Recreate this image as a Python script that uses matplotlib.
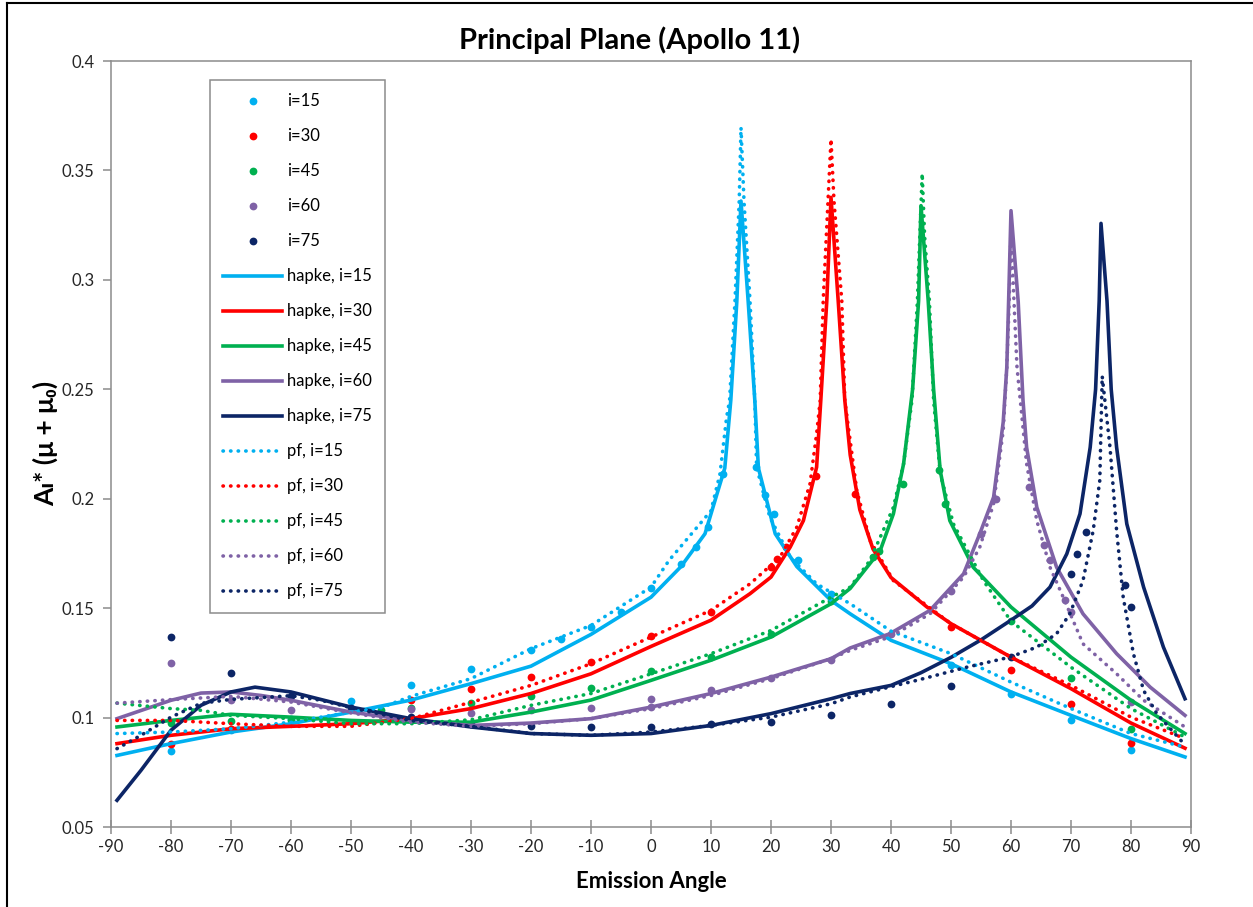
import matplotlib.pyplot as plt
from matplotlib.lines import Line2D

plt.rcParams['font.family'] = ['Lato', 'DejaVu Sans']
plt.rcParams['axes.unicode_minus'] = False

incidence = [15, 30, 45, 60, 75]
colors = ['#00B0F0', '#FF0000', '#00B050', '#7F62A6', '#0C2566']

# measured points
obs15_x = [-80, -70, -60, -50, -40, -30, -20, -15, -10, -5, 0, 5, 7.5, 9.5, 12, 17.5, 19, 20.5, 24.5, 30, 50, 60, 70, 80]
obs15_y = [0.0847, 0.0942, 0.0995, 0.1074, 0.115, 0.1222, 0.1307, 0.136, 0.1413, 0.1482, 0.1591, 0.1703, 0.1779, 0.187,
           0.2114, 0.2144, 0.2015, 0.1931, 0.1718, 0.1566, 0.1238, 0.1109, 0.0987, 0.085]
obs30_x = [-80, -70, -40, -30, -20, -10, 0, 10, 20, 21, 22.5, 27.5, 34, 50, 60, 70, 80]
obs30_y = [0.0878, 0.0949, 0.1079, 0.113, 0.1185, 0.1253, 0.1375, 0.1481, 0.1687, 0.1726, 0.1779, 0.2106, 0.2022,
           0.1413, 0.1216, 0.1063, 0.0884]
obs45_x = [-80, -70, -60, -45, -40, -30, -20, -10, 0, 10, 20, 30, 37, 38, 42, 48, 49, 60, 70, 80]
obs45_y = [0.0975, 0.0983, 0.099, 0.1033, 0.1045, 0.1066, 0.1097, 0.1137, 0.1213, 0.1276, 0.1383, 0.1533, 0.1733,
           0.1763, 0.2068, 0.2129, 0.1977, 0.144, 0.118, 0.0949]
obs60_x = [-80, -70, -60, -40, -30, -20, -10, 0, 0, 10, 20, 30, 40, 50, 55, 57.5, 63, 65.5, 66.5, 69, 70, 80]
obs60_y = [0.1249, 0.1079, 0.1036, 0.1041, 0.1021, 0.1033, 0.1045, 0.1086, 0.1048, 0.1124, 0.1183, 0.1263, 0.1383,
           0.158, 0.184, 0.200, 0.2053, 0.1788, 0.1718, 0.1535, 0.1482, 0.1071]
obs75_x = [-80, -70, -60, -50, -40, -30, -20, -10, 0, 10, 20, 30, 40, 50, 60, 70, 71, 72.5, 79, 80]
obs75_y = [0.1368, 0.1205, 0.110, 0.1045, 0.1002, 0.0972, 0.096, 0.0957, 0.0957, 0.0972, 0.0979, 0.101, 0.106,
           0.1143, 0.1276, 0.1657, 0.1748, 0.1847, 0.1604, 0.1505]

# hapke model
hapke15_x = [-89, -80, -70, -60, -50, -40, -30, -20, -10, 0, 5, 9, 12.3, 13.3, 14.3, 15, 16.2, 17.3, 17.9, 20.7,
             24.3, 30, 33.2, 40, 50, 60, 70, 80, 89]
hapke15_y = [0.0827, 0.0881, 0.0934, 0.0972, 0.1025, 0.108, 0.1155, 0.1235, 0.138, 0.155, 0.169, 0.184, 0.214,
             0.245, 0.290, 0.336, 0.290, 0.245, 0.214, 0.184, 0.169, 0.1535, 0.1474, 0.1353, 0.1246, 0.1117, 0.101,
             0.0904, 0.082]
hapke30_x = [-89, -80, -70, -60, -50, -40, -30, -20, -10, 0, 10, 16.5, 20, 23.2, 25.4, 27.6, 28.3, 29.3, 30, 31.2,
             32.3, 33.2, 34.8, 37, 40, 46, 50, 60, 70, 80, 89]
hapke30_y = [0.0881, 0.0919, 0.0949, 0.096, 0.0972, 0.0995, 0.1041, 0.111, 0.120, 0.1325, 0.1445, 0.1566, 0.1642,
             0.1779, 0.190, 0.2144, 0.245, 0.2904, 0.3377, 0.2904, 0.245, 0.220, 0.195, 0.177, 0.164, 0.1505, 0.1429,
             0.1276, 0.1132, 0.0975, 0.086]
hapke45_x = [-89, -80, -70, -60, -50, -40, -30, -20, -10, 0, 10, 20, 30, 33.2, 38.2, 40.4, 42.1, 43.6, 44.6, 45,
             46.2, 47.1, 48.2, 49.8, 53.7, 60, 70, 80, 89]
hapke45_y = [0.0957, 0.0987, 0.1015, 0.1002, 0.0987, 0.0979, 0.0979, 0.1025, 0.108, 0.117, 0.1262, 0.1368, 0.152,
             0.159, 0.1763, 0.1931, 0.216, 0.25, 0.2904, 0.3339, 0.2904, 0.25, 0.2129, 0.190, 0.1687, 0.1505, 0.1276,
             0.1079, 0.0927]
hapke60_x = [-89, -80, -75, -70, -65, -60, -50, -40, -30, -20, -10, 0, 10, 20, 30, 33.2, 39.8, 46.5, 52.1, 54.8,
             57.1, 58.7, 59.3, 59.6, 60, 61.2, 62, 62.6, 64.3, 67.6, 72, 77.6, 83.2, 89]
hapke60_y = [0.0995, 0.1079, 0.1112, 0.1117, 0.1101, 0.1079, 0.1025, 0.0987, 0.0964, 0.0975, 0.0995, 0.1048, 0.111,
             0.1185, 0.1269, 0.1318, 0.1383, 0.149, 0.1657, 0.184, 0.2007, 0.235, 0.26, 0.29, 0.3316, 0.29, 0.245,
             0.2235, 0.1961, 0.1687, 0.1474, 0.1292, 0.1139, 0.101]
hapke75_x = [-89, -85, -80, -75, -70, -66, -60, -50, -40, -30, -20, -10, 0, 10, 20, 30, 33.2, 40, 45, 50, 55, 60,
             63.5, 66.5, 69.3, 71.5, 73.2, 74.1, 74.7, 75, 76, 76.7, 77.6, 79.3, 82.1, 85.4, 89]
hapke75_y = [0.0622, 0.0759, 0.0942, 0.1056, 0.1117, 0.1139, 0.1117, 0.1048, 0.0995, 0.0957, 0.0927, 0.0919,
             0.0927, 0.0964, 0.1018, 0.1086, 0.111, 0.1147, 0.1205, 0.1275, 0.1355, 0.1445, 0.151, 0.1596, 0.1748,
             0.1931, 0.2235, 0.25, 0.2904, 0.3258, 0.2904, 0.25, 0.2235, 0.1885, 0.1596, 0.1322, 0.1086]

# pf model
pf15_x = [-89, -80, -70, -60, -50, -45, -40, -30, -20, -10, 0, 3, 10, 11.5, 12.6, 13.1, 14, 14.7, 15, 15.5, 16.5,
          17.3, 17.6, 19.8, 23.2, 27.6, 33.2, 40, 50, 60, 70, 80, 89]
pf15_y = [0.0927, 0.0934, 0.0949, 0.0979, 0.1025, 0.1045, 0.1097, 0.1178, 0.1315, 0.1421, 0.1596, 0.1718, 0.1945,
          0.2114, 0.2372, 0.245, 0.2904, 0.336, 0.3696, 0.336, 0.2904, 0.245, 0.2144, 0.1916, 0.1733, 0.1611,
          0.152, 0.1395, 0.1292, 0.1162, 0.1041, 0.0927, 0.0865]
pf30_x = [-89, -80, -70, -60, -50, -40, -30, -20, -10, 0, 10, 16.5, 21.5, 24.3, 26.5, 27.6, 28.2, 28.7, 29.5, 30,
          30.5, 31.8, 32.3, 34.3, 36.5, 40.4, 50, 60, 70, 80, 89]
pf30_y = [0.0987, 0.0987, 0.0972, 0.096, 0.096, 0.0995, 0.107, 0.1147, 0.1246, 0.1368, 0.149, 0.1611, 0.1733,
          0.187, 0.2068, 0.2296, 0.245, 0.2904, 0.336, 0.3643, 0.336, 0.2904, 0.245, 0.2037, 0.1809, 0.1626,
          0.1429, 0.1276, 0.1147, 0.1002, 0.0904]
pf45_x = [-89, -80, -75, -70, -60, -50, -40, -30, -20, -10, 0, 10, 20, 30, 33.2, 36.5, 40.4, 42.1, 43.5, 44.4,
          44.8, 45.2, 45.6, 46.4, 47.1, 48.2, 50.4, 55.4, 60, 70, 80, 89]
pf45_y = [0.1066, 0.1041, 0.1033, 0.101, 0.0995, 0.0972, 0.0972, 0.099, 0.1056, 0.111, 0.120, 0.1292, 0.1398,
          0.155, 0.1596, 0.1718, 0.1961, 0.216, 0.245, 0.2904, 0.32, 0.3486, 0.32, 0.2904, 0.245, 0.2114, 0.1885,
          0.1626, 0.144, 0.123, 0.1041, 0.0911]
pf60_x = [-89, -80, -70, -60, -50, -40, -30, -20, -10, 0, 10, 20, 30, 33.2, 39.8, 46.5, 52.1, 54.8, 57.1, 58.7,
          59.3, 59.7, 60, 60.5, 61, 62.6, 64.3, 66.5, 68.7, 72, 77.6, 82.1, 89]
pf60_y = [0.1066, 0.1082, 0.1097, 0.1071, 0.1021, 0.0979, 0.096, 0.0972, 0.0995, 0.1041, 0.1101, 0.1178, 0.1269,
          0.1307, 0.1368, 0.1474, 0.1642, 0.1779, 0.1977, 0.2311, 0.26, 0.29, 0.3225, 0.29, 0.26, 0.216, 0.190,
          0.1687, 0.155, 0.1337, 0.120, 0.1079, 0.0957]
pf75_x = [-89, -85, -80, -75, -70, -60, -55, -50, -40, -30, -20, -10, 0, 10, 20, 30, 33.2, 39.8, 44.3, 52.6, 59.8,
          64.3, 67.6, 69.8, 72, 73.7, 74.8, 75.2, 76.5, 77.6, 78.7, 80.4, 82.1, 84.3, 88.8]
pf75_y = [0.0858, 0.0919, 0.1002, 0.1065, 0.1083, 0.110, 0.1079, 0.1045, 0.0986, 0.096, 0.0927, 0.0919, 0.0934,
          0.0964, 0.1002, 0.1063, 0.1094, 0.114, 0.117, 0.123, 0.1276, 0.1322, 0.1383, 0.1474, 0.1626, 0.1855,
          0.2084, 0.256, 0.2235, 0.1855, 0.155, 0.1292, 0.1124, 0.1018, 0.0881]

obs = [(obs15_x, obs15_y), (obs30_x, obs30_y), (obs45_x, obs45_y), (obs60_x, obs60_y), (obs75_x, obs75_y)]
hapke = [(hapke15_x, hapke15_y), (hapke30_x, hapke30_y), (hapke45_x, hapke45_y), (hapke60_x, hapke60_y),
         (hapke75_x, hapke75_y)]
pf = [(pf15_x, pf15_y), (pf30_x, pf30_y), (pf45_x, pf45_y), (pf60_x, pf60_y), (pf75_x, pf75_y)]

fig = plt.figure(figsize=(12.53, 9.07), dpi=100)
ax = fig.add_axes([111 / 1253, 80 / 907, 1080 / 1253, 766 / 907])

for i, c, (x, y) in zip(incidence, colors, obs):
    ax.plot(x, y, 'o', color=c, ms=5.6, mew=0, label=f'i={i}')
for i, c, (x, y) in zip(incidence, colors, hapke):
    ax.plot(x, y, '-', color=c, lw=2.6, solid_joinstyle='round', label=f'hapke, i={i}')
for i, c, (x, y) in zip(incidence, colors, pf):
    ax.plot(x, y, color=c, lw=2.6, linestyle=(0, (0.1, 2.0)), dash_capstyle='round', label=f'pf, i={i}')

ax.set_xlim(-90, 90)
ax.set_ylim(0.05, 0.4)
ax.set_xticks(range(-90, 91, 10))
yt = [0.05, 0.1, 0.15, 0.2, 0.25, 0.3, 0.35, 0.4]
ax.set_yticks(yt)
ax.set_yticklabels([f'{v:g}' for v in yt])
for s in ax.spines.values():
    s.set_color('#8c8c8c')
    s.set_linewidth(1.1)
ax.tick_params(axis='x', direction='inout', length=10, width=1.1, color='#8c8c8c', labelsize=12,
               labelcolor='#262626', pad=4)
ax.tick_params(axis='y', direction='out', length=6, width=1.1, color='#8c8c8c', labelsize=12,
               labelcolor='#262626', pad=6)

leg = ax.legend(loc='upper left', bbox_to_anchor=(0.0917, 0.975), borderaxespad=0, fontsize=12,
                labelspacing=1.14, handlelength=3.5, handletextpad=0.3, borderpad=0.8, numpoints=1,
                fancybox=False, framealpha=1)
leg.get_frame().set_edgecolor('#8c8c8c')
leg.get_frame().set_linewidth(1.1)

fig.text(630 / 1253, 1 - 40 / 907, 'Principal Plane (Apollo 11)', ha='center', va='center',
         fontsize=21, fontweight='bold')
fig.text(651 / 1253, 1 - 882 / 907, 'Emission Angle', ha='center', va='center', fontsize=16, fontweight='bold')
fig.text(45 / 1253, 1 - 443 / 907, 'Aₗ* (μ + μ₀)', ha='center', va='center', rotation=90,
         fontsize=19, fontweight='bold')

# chart area border (top and left visible)
fig.add_artist(Line2D([7 / 1253, 1], [1 - 3 / 907, 1 - 3 / 907], color='black', lw=1.5))
fig.add_artist(Line2D([7 / 1253, 7 / 1253], [0, 1 - 3 / 907], color='black', lw=1.5))

fig.savefig('out.png', dpi=100)
